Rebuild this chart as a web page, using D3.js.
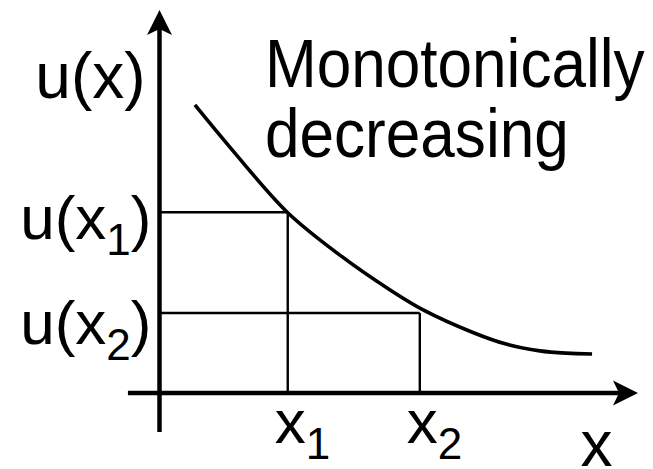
<!DOCTYPE html>
<html>
<head>
<meta charset="utf-8">
<script src="https://cdn.jsdelivr.net/npm/d3@7"></script>
<style>
  html, body { margin: 0; padding: 0; background: #fff; }
  svg { display: block; }
  text { font-family: "Liberation Sans", Arial, sans-serif; fill: #000; }
</style>
</head>
<body>
<svg width="653" height="469"></svg>
<script>
// curve u(x)
let curveX = [0.74, 1.47, 2.67, 3.77, 4.82, 5.51, 6.55, 7.26, 7.95, 8.5, 9.04],
    curveU = [7.52, 6.42, 4.72, 3.60, 2.69, 2.17, 1.58, 1.27, 1.10, 1.04, 1.02];

// the two marked points
let markX = [2.68, 5.44],
    markU = [4.72, 2.09],
    markSub = ["1", "2"];

let yTitle = "u(x)",
    xTitle = "x",
    note = ["Monotonically", "decreasing"];

let svg = d3.select("svg"),
    fs = 62, sub = 44;

let x = d3.scaleLinear().domain([0, 10]).range([159.5, 638]);
let y = d3.scaleLinear().domain([0, 10]).range([393, 10]);

let data = curveX.map((d, i) => [d, curveU[i]]);

let line = d3.line()
    .x(d => x(d[0]))
    .y(d => y(d[1]))
    .curve(d3.curveCatmullRom.alpha(0.5));

// guide lines
let guides = svg.append("g").attr("stroke", "#000").attr("stroke-width", 2.4);
markX.forEach((v, i) => {
    guides.append("line")
        .attr("x1", x(0)).attr("x2", x(v))
        .attr("y1", y(markU[i])).attr("y2", y(markU[i]));
    guides.append("line")
        .attr("x1", x(v)).attr("x2", x(v))
        .attr("y1", y(markU[i])).attr("y2", y(0));
});

// curve
svg.append("path")
    .datum(data)
    .attr("d", line)
    .attr("fill", "none")
    .attr("stroke", "#000")
    .attr("stroke-width", 3.6);

// axes with arrow heads
let head = "M0,0 L-25,-12.5 L-19,0 L-25,12.5 Z";
svg.append("line")
    .attr("x1", x(-0.66)).attr("x2", x(10) - 15)
    .attr("y1", y(0)).attr("y2", y(0))
    .attr("stroke", "#000").attr("stroke-width", 4.5);
svg.append("path")
    .attr("d", head)
    .attr("transform", `translate(${x(10)},${y(0)})`);
svg.append("line")
    .attr("x1", x(0)).attr("x2", x(0))
    .attr("y1", y(-1.02)).attr("y2", y(10) + 15)
    .attr("stroke", "#000").attr("stroke-width", 4.5);
svg.append("path")
    .attr("d", head)
    .attr("transform", `translate(${x(0)},${y(10)}) rotate(-90)`);

// labels with subscripts
function subLabel(g, px, py, pre, s, post, anchor) {
    let t = g.append("text")
        .attr("x", px).attr("y", py)
        .attr("font-size", fs)
        .attr("text-anchor", anchor);
    t.append("tspan").text(pre);
    t.append("tspan").attr("font-size", sub).attr("dy", 16).text(s);
    if (post) t.append("tspan").attr("dy", -16).text(post);
}

markX.forEach((v, i) => {
    subLabel(svg, x(v) - 13, y(0) + 50, "x", markSub[i], null, "start");
    subLabel(svg, x(0) - 8, y(markU[i]) + 27 + i * 4, "u(x", markSub[i], ")", "end");
});

svg.append("text")
    .attr("x", x(0) - 14).attr("y", 98)
    .attr("font-size", fs + 2).attr("text-anchor", "end")
    .text(yTitle);

svg.append("text")
    .attr("x", x(8.8)).attr("y", 466)
    .attr("font-size", fs + 2)
    .text(xTitle);

// the note is drawn taller than it is wide in the picture
svg.append("text")
    .attr("font-size", 69)
    .attr("transform", "scale(0.9,1)")
    .selectAll("tspan")
    .data(note)
    .join("tspan")
    .attr("x", 265 / 0.9)
    .attr("y", (d, i) => 87 + i * 70)
    .text(d => d);
</script>
</body>
</html>
